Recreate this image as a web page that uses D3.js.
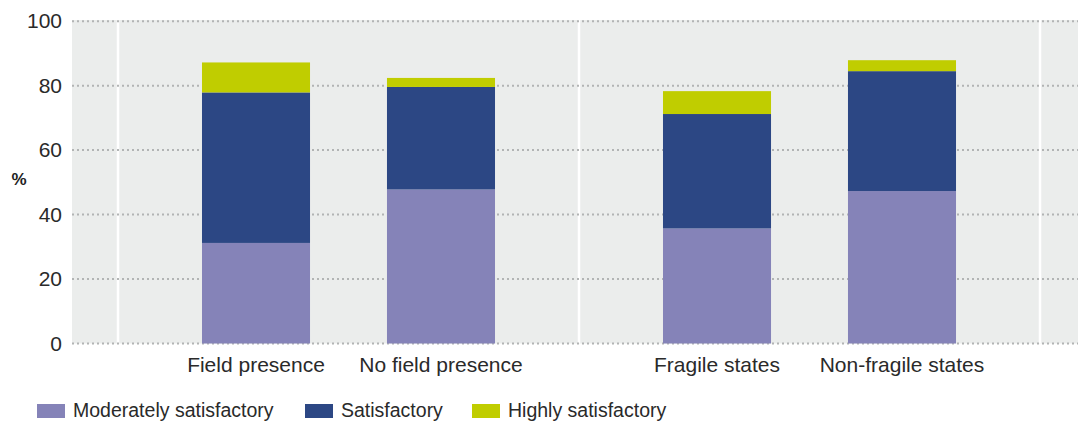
<!DOCTYPE html>
<html>
<head>
<meta charset="utf-8">
<script src="https://cdn.jsdelivr.net/npm/d3@7"></script>
<style>
  html, body { margin: 0; padding: 0; background: #fff; }
  svg { display: block; font-family: "Liberation Sans", Arial, sans-serif; }
</style>
</head>
<body>
<svg id="chart" width="1078" height="421"></svg>
<script>
// Share of ratings by category (%)
const groups = ["Presence", "Fragility"];
const categories = ["Field presence", "No field presence", "Fragile states", "Non-fragile states"];
const categoryGroup = ["Presence", "Presence", "Fragility", "Fragility"];
const moderatelySatisfactory = [31.2, 47.8, 35.7, 47.3];
const satisfactory = [46.7, 31.8, 35.5, 37.2];
const highlySatisfactory = [9.3, 2.8, 7.1, 3.4];
const seriesNames = ["Moderately satisfactory", "Satisfactory", "Highly satisfactory"];
const seriesColors = ["#8583b8", "#2c4784", "#c0cd00"];
const yTicks = [0, 20, 40, 60, 80, 100];

const svg = d3.select("#chart");
const plot = { left: 72, right: 1078, top: 20, bottom: 343.5 };

const y = d3.scaleLinear().domain([0, 100]).range([plot.bottom, 21.2]);

// Outer scale places the two comparison groups, inner scale the bars within a group
const xGroup = d3.scaleBand().domain(groups).range([118, 1040]).padding(0);
const xInner = d3.scaleBand().domain([0, 1]).range([0, xGroup.bandwidth()])
  .paddingInner(0.416).paddingOuter(0.454);

const rows = categories.map((c, i) => ({
  category: c,
  group: categoryGroup[i],
  slot: categoryGroup.slice(0, i).filter(g => g === categoryGroup[i]).length,
  "Moderately satisfactory": moderatelySatisfactory[i],
  "Satisfactory": satisfactory[i],
  "Highly satisfactory": highlySatisfactory[i]
}));
const xPos = d => xGroup(d.group) + xInner(d.slot);

// Panel background
svg.append("rect")
  .attr("x", plot.left).attr("y", plot.top)
  .attr("width", plot.right - plot.left).attr("height", plot.bottom - plot.top)
  .attr("fill", "#ebedec");

// Group separators
svg.append("g").selectAll("line")
  .data([118, 1040].concat(groups.slice(1).map(g => xGroup(g))))
  .join("line")
  .attr("x1", d => d).attr("x2", d => d)
  .attr("y1", plot.top).attr("y2", plot.bottom)
  .attr("stroke", "#fff").attr("stroke-width", 2.5);

// Dotted gridlines
svg.append("g").selectAll("line")
  .data(yTicks)
  .join("line")
  .attr("x1", plot.left).attr("x2", plot.right)
  .attr("y1", d => y(d)).attr("y2", d => y(d))
  .attr("stroke", "#b2b4b4").attr("stroke-width", 2)
  .attr("stroke-dasharray", "2 3");

// Stacked bars
const stack = d3.stack().keys(seriesNames)(rows);
svg.append("g").selectAll("g")
  .data(stack)
  .join("g")
  .attr("fill", (d, i) => seriesColors[i])
  .selectAll("rect")
  .data(d => d)
  .join("rect")
  .attr("x", d => xPos(d.data))
  .attr("width", xInner.bandwidth())
  .attr("y", d => y(d[1]))
  .attr("height", d => y(d[0]) - y(d[1]));

// Y axis labels
const yAxis = svg.append("g")
  .attr("transform", `translate(${plot.left - 10},0)`)
  .call(d3.axisLeft(y).tickValues(yTicks).tickSize(0).tickPadding(0));
yAxis.select(".domain").remove();
yAxis.selectAll("text")
  .attr("font-family", "Liberation Sans, Arial, sans-serif")
  .attr("font-size", 21).attr("fill", "#2a2a2a");

svg.append("text")
  .attr("x", 19).attr("y", 185)
  .attr("text-anchor", "middle")
  .attr("font-size", 17).attr("font-weight", "bold").attr("fill", "#222")
  .text("%");

// Category labels
svg.append("g").selectAll("text")
  .data(rows)
  .join("text")
  .attr("x", d => xPos(d) + xInner.bandwidth() / 2)
  .attr("y", 372)
  .attr("text-anchor", "middle")
  .attr("font-size", 21).attr("fill", "#2a2a2a")
  .text(d => d.category);

// Legend
const legendX = [37, 305, 472];
const legend = svg.append("g").selectAll("g")
  .data(seriesNames)
  .join("g")
  .attr("transform", (d, i) => `translate(${legendX[i]},404)`);
legend.append("rect")
  .attr("width", 28).attr("height", 14)
  .attr("fill", (d, i) => seriesColors[i]);
legend.append("text")
  .attr("x", 36).attr("y", 13)
  .attr("font-size", 19.5).attr("fill", "#2a2a2a")
  .text(d => d);
</script>
</body>
</html>
